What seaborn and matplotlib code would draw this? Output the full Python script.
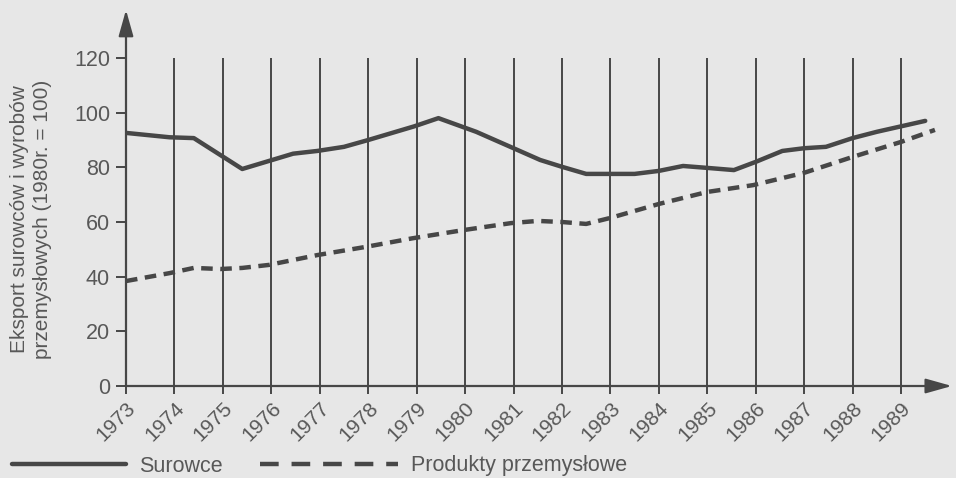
import pandas as pd
import matplotlib.pyplot as plt
import seaborn as sns
from matplotlib.lines import Line2D

# Dane (1980r. = 100)
lata = list(range(1973, 1990))
surowce_rok = [1973.0, 1973.9, 1974.4, 1975.4, 1976.45, 1976.95, 1977.5, 1978.0, 1978.95,
               1979.45, 1980.23, 1981.0, 1981.55, 1982.0, 1982.5, 1983.5, 1984.0, 1984.5,
               1985.0, 1985.55, 1986.0, 1986.55, 1987.0, 1987.45, 1988.0, 1988.5, 1989.0, 1989.5]
surowce = [92.6, 91, 90.7, 79.4, 85, 86, 87.5, 90, 95,
           98, 93, 87, 82.7, 80.2, 77.6, 77.6, 78.7, 80.5,
           79.8, 79, 82, 86, 87, 87.5, 90.7, 93, 95, 97]
produkty_rok = [1973.0, 1973.9, 1974.4, 1974.95, 1975.4, 1975.95, 1976.95, 1977.95, 1978.9,
                1979.95, 1980.95, 1981.5, 1982.0, 1982.5, 1983.0, 1984.0, 1985.0, 1985.95,
                1987.0, 1988.0, 1989.0, 1989.7]
produkty = [38.4, 41.3, 43.2, 42.8, 43.2, 44.3, 47.9, 50.9, 54,
            57, 59.6, 60.4, 60, 59.3, 61.5, 66.6, 71, 73.5,
            78, 83.8, 89.3, 93.7]

tlo = '#e7e7e7'
linia = '#474747'
tekst = '#585858'

sns.set_theme(style='white')
plt.rcParams['font.family'] = ['Liberation Sans', 'DejaVu Sans']

df_s = pd.DataFrame({'rok': surowce_rok, 'wartosc': surowce})
df_p = pd.DataFrame({'rok': produkty_rok, 'wartosc': produkty})

fig = plt.figure(figsize=(9.56, 4.78), dpi=100, facecolor=tlo)
ax = fig.add_axes([126 / 956, 92 / 478, 830 / 956, 378 / 478], facecolor=tlo)

# pionowe linie lat
ax.vlines(lata[1:], 0, 120, color=linia, lw=1.4)

sns.lineplot(data=df_s, x='rok', y='wartosc', ax=ax, color=linia, lw=3.2, sort=False, estimator=None)
sns.lineplot(data=df_p, x='rok', y='wartosc', ax=ax, color=linia, lw=3.2, sort=False, estimator=None,
             dashes=False, linestyle=(0, (2.6, 1.7)))

ax.set_xlim(1973, 1990.135)
ax.set_ylim(0, 138.3)
for s in ax.spines.values():
    s.set_visible(False)

# osie ze strzałkami
strz = dict(arrowstyle='-|>,head_length=1.6,head_width=0.45', color=linia, lw=1.6,
            mutation_scale=10, shrinkA=0, shrinkB=0)
ax.annotate('', xy=(1973, 137.6), xytext=(1973, 0), arrowprops=strz, annotation_clip=False)
ax.annotate('', xy=(1990.05, 0), xytext=(1972.99, 0), arrowprops=strz, annotation_clip=False)

ax.set_xticks(lata)
ax.set_xticklabels([str(r) for r in lata], rotation=45, ha='right', rotation_mode='anchor')
ax.set_yticks(range(0, 121, 20))
ax.tick_params(axis='x', length=6, width=1.4, color=linia, pad=3, labelsize=15, labelcolor=tekst,
               bottom=True)
ax.tick_params(axis='y', length=7.5, width=1.4, color=linia, pad=4, labelsize=15.5, labelcolor=tekst,
               left=True)
ax.set_xlabel('')
ax.set_ylabel('')

fig.text(31 / 956, 1 - 219 / 478, 'Eksport surowców i wyrobów\nprzemysłowych (1980r. = 100)',
         rotation=90, ha='center', va='center', fontsize=15, color=tekst, linespacing=1.25)

# legenda pod wykresem (dwie części, różna długość linii)
opcje = dict(loc='center left', frameon=False, fontsize=15.5, handletextpad=0.6,
             labelcolor=tekst, borderaxespad=0, borderpad=0)
fig.legend([Line2D([], [], color=linia, lw=3.2)], ['Surowce'],
           bbox_to_anchor=(12 / 956, 12 / 478), handlelength=5.3, **opcje)
fig.legend([Line2D([], [], color=linia, lw=3.2, linestyle=(0, (4.2, 2.9)))], ['Produkty przemysłowe'],
           bbox_to_anchor=(260 / 956, 12 / 478), handlelength=6.4, **opcje)

plt.savefig('out.png', dpi=100, facecolor=tlo)
